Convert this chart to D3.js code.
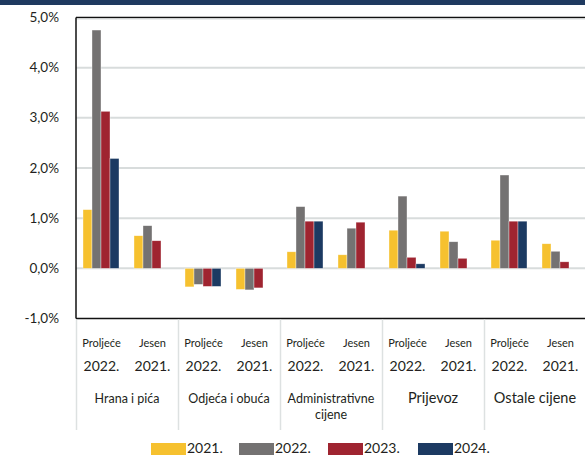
<!DOCTYPE html>
<html>
<head>
<meta charset="utf-8">
<script src="https://cdn.jsdelivr.net/npm/d3@7"></script>
<style>
  body { margin: 0; background: #fff; }
  svg { display: block; font-family: Lato, "Open Sans", sans-serif; }
</style>
</head>
<body>
<div id="chart"></div>
<script>
// Kategorien und Teilgruppen
const kategorien = ["Hrana i pića", "Odjeća i obuća", "Administrativne cijene", "Prijevoz", "Ostale cijene"];
const kategorieZeilen = [["Hrana i pića"], ["Odjeća i obuća"], ["Administrativne", "cijene"], ["Prijevoz"], ["Ostale cijene"]];
const kategorieGross = [false, false, false, true, true];
const ankete = ["Proljeće", "Jesen"];
const anketeJahr = ["2022.", "2021."];
const serien = ["2021.", "2022.", "2023.", "2024."];
const farben = ["#f6c12f", "#747272", "#9f2430", "#1c3a62"];
const yTicks = [-1, 0, 1, 2, 3, 4, 5];

// Werte je Serie (Reihenfolge: Kategorie x Anketa), null = kein Wert
const werte2021 = [1.17, 0.65, -0.37, -0.42, 0.33, 0.27, 0.76, 0.74, 0.56, 0.49];
const werte2022 = [4.75, 0.85, -0.32, -0.43, 1.23, 0.80, 1.44, 0.53, 1.86, 0.34];
const werte2023 = [3.13, 0.55, -0.36, -0.39, 0.94, 0.92, 0.22, 0.20, 0.94, 0.13];
const werte2024 = [2.19, null, -0.36, null, 0.94, null, 0.09, null, 0.94, null];
const alleWerte = [werte2021, werte2022, werte2023, werte2024];

const width = 585, height = 455;
const margin = { left: 76, right: -1, top: 17, bottom: 137 };

const svg = d3.select("#chart").append("svg")
  .attr("width", width)
  .attr("height", height);

// Balken oben
svg.append("rect").attr("x", 0).attr("y", 0).attr("width", width).attr("height", 5).attr("fill", "#1f3a60");

const x0 = d3.scaleBand()
  .domain(kategorien)
  .range([margin.left, width - margin.right])
  .padding(0);

const x1 = d3.scaleBand()
  .domain(ankete)
  .range([0, x0.bandwidth()])
  .padding(0);

const x2 = d3.scaleBand()
  .domain(serien)
  .range([7, 43])
  .padding(0);

const y = d3.scaleLinear()
  .domain([-1, 5])
  .range([height - margin.bottom + 0.5, margin.top + 0.5]);

// Gitternetz
svg.append("g")
  .selectAll("line")
  .data(yTicks.filter(d => d > -1 && d < 5))
  .enter()
  .append("line")
  .attr("x1", margin.left)
  .attr("x2", width)
  .attr("y1", d => y(d))
  .attr("y2", d => y(d))
  .attr("stroke", "#d8dcdc")
  .attr("stroke-width", 2);

// Y-Achse Beschriftung
const fmt = d => d.toFixed(1).replace(".", ",") + "%";
svg.append("g")
  .selectAll("text")
  .data(yTicks)
  .enter()
  .append("text")
  .attr("x", 59)
  .attr("y", d => y(d) + 4.5)
  .attr("text-anchor", "end")
  .attr("font-size", 13.5)
  .attr("fill", "#231f20")
  .text(fmt);

// Daten aufbereiten
const balken = [];
kategorien.forEach((k, ki) => {
  ankete.forEach((a, ai) => {
    serien.forEach((s, si) => {
      const v = alleWerte[si][ki * 2 + ai];
      if (v !== null) balken.push({ k, a, s, si, v });
    });
  });
});

svg.append("g")
  .selectAll("rect")
  .data(balken)
  .enter()
  .append("rect")
  .attr("x", d => x0(d.k) + x1(d.a) + x2(d.s))
  .attr("y", d => y(Math.max(0, d.v)))
  .attr("width", x2.bandwidth())
  .attr("height", d => Math.abs(y(d.v) - y(0)))
  .attr("fill", d => farben[d.si])
  .attr("stroke", "#ffffff")
  .attr("stroke-opacity", 0.6)
  .attr("stroke-width", 0.6);

// Rahmen
svg.append("line").attr("x1", margin.left).attr("x2", width).attr("y1", y(5)).attr("y2", y(5))
  .attr("stroke", "#111").attr("stroke-width", 1.5);
svg.append("line").attr("x1", margin.left).attr("x2", width).attr("y1", y(5) + 1.5).attr("y2", y(5) + 1.5)
  .attr("stroke", "#d8dcdc").attr("stroke-width", 1);
svg.append("line").attr("x1", margin.left).attr("x2", width).attr("y1", y(-1)).attr("y2", y(-1))
  .attr("stroke", "#111").attr("stroke-width", 1.5);
svg.append("line").attr("x1", margin.left).attr("x2", margin.left).attr("y1", y(5)).attr("y2", y(-1))
  .attr("stroke", "#111").attr("stroke-width", 1.5);

// Trennlinien der Kategorien
svg.append("g")
  .selectAll("line")
  .data(kategorien)
  .enter()
  .append("line")
  .attr("x1", d => x0(d) + 0.5)
  .attr("x2", d => x0(d) + 0.5)
  .attr("y1", y(-1) + 1)
  .attr("y2", 430)
  .attr("stroke", "#dde1e1")
  .attr("stroke-width", 1.5);

// X-Beschriftung
const xg = svg.append("g").attr("fill", "#231f20");
kategorien.forEach((k, ki) => {
  ankete.forEach((a, ai) => {
    const cx = x0(k) + x1(a) + x1.bandwidth() / 2;
    xg.append("text").attr("x", cx).attr("y", 347).attr("text-anchor", "middle")
      .attr("font-size", 11).text(a);
    xg.append("text").attr("x", cx).attr("y", 371).attr("text-anchor", "middle")
      .attr("font-size", 14).text(anketeJahr[ai]);
  });
  const t = xg.append("text").attr("x", x0(k) + x0.bandwidth() / 2)
    .attr("text-anchor", "middle")
    .attr("font-size", kategorieGross[ki] ? 14.5 : 12.5);
  kategorieZeilen[ki].forEach((zeile, zi) => {
    t.append("tspan").attr("x", x0(k) + x0.bandwidth() / 2).attr("y", 403 + zi * 16).text(zeile);
  });
});

// Legende
const legendeX = [151, 239, 328, 418];
const leg = svg.append("g");
serien.forEach((s, si) => {
  leg.append("rect").attr("x", legendeX[si]).attr("y", 443).attr("width", 35).attr("height", 12)
    .attr("fill", farben[si]);
  leg.append("text").attr("x", legendeX[si] + 36).attr("y", 452.5).attr("font-size", 14)
    .attr("fill", "#231f20").text(s);
});
</script>
</body>
</html>
